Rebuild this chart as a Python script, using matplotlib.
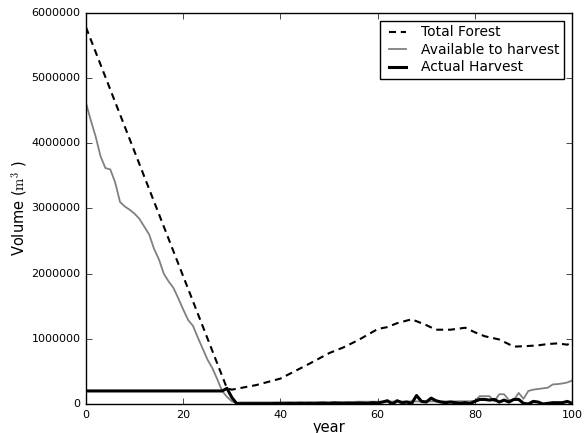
import matplotlib
matplotlib.use('Agg')
import matplotlib.pyplot as plt

plt.style.use('classic')
plt.rcParams['mathtext.fontset'] = 'cm'
plt.rcParams['font.family'] = 'DejaVu Sans'

# Total forest volume (key years)
forest_years = [0, 29, 30, 35, 40, 46, 50, 53, 56, 60, 62, 64, 67, 70, 72, 75, 78, 80,
                82, 85, 88, 91, 93, 95, 97, 99, 100]
total_forest = [5780000, 240000, 220000, 290000, 390000, 620000, 780000, 870000, 980000,
                1150000, 1180000, 1240000, 1300000, 1210000, 1140000, 1140000, 1170000,
                1100000, 1040000, 990000, 880000, 890000, 900000, 920000, 930000, 910000, 950000]

years = list(range(101))

available = [4620000, 4350000, 4100000, 3800000, 3620000, 3600000, 3400000, 3100000,
             3030000, 2980000, 2920000, 2840000, 2720000, 2600000, 2380000, 2220000,
             2000000, 1880000, 1780000, 1620000, 1450000, 1290000, 1200000, 1020000,
             850000, 680000, 550000, 380000, 200000, 110000, 40000, 20000,
             25000, 25000, 25000, 25000, 25000, 25000, 25000, 25000, 28000, 28000,
             28000, 28000, 28000, 30000, 30000, 30000, 30000, 30000, 30000, 32000,
             32000, 32000, 32000, 32000, 35000, 35000, 35000, 35000, 35000, 35000,
             38000, 38000, 38000, 38000, 38000, 40000, 40000, 40000, 40000, 40000,
             40000, 40000, 40000, 40000, 40000, 42000, 42000, 42000, 50000, 120000,
             120000, 120000, 40000, 150000, 150000, 60000, 60000, 170000, 80000,
             200000, 220000, 230000, 240000, 250000, 300000, 305000, 315000, 330000, 360000]

harvest = [200000] * 29 + [240000, 100000, 5000] + \
          [5000, 5000, 5000, 5000, 5000, 5000, 5000, 8000, 5000, 5000, 8000, 5000,
           10000, 5000, 8000, 5000, 10000, 12000, 5000, 15000, 10000, 8000, 12000, 10000,
           15000, 12000, 10000, 20000, 15000, 30000, 50000, 0, 50000, 20000, 30000,
           10000, 130000, 40000, 30000, 90000, 50000, 30000, 20000, 30000, 20000, 10000,
           20000, 5000, 40000, 70000, 70000, 60000, 70000, 30000, 60000, 30000, 70000,
           70000, 10000, 0, 40000, 30000, 0, 10000, 20000, 20000, 20000, 40000, 10000]

fig = plt.figure(figsize=(5.85, 4.33), dpi=100, facecolor='white')
ax = fig.add_axes([0.147, 0.067, 0.831, 0.903])
ax.set_facecolor('white')

ax.plot(forest_years, total_forest, color='black', linestyle='--', dashes=(5, 3.5),
        lw=1.5, label='Total Forest')
ax.plot(years[:len(available)], available, color='grey', lw=1.3, label='Available to harvest')
ax.plot(years[:len(harvest)], harvest, color='black', lw=2.2, label='Actual Harvest')

ax.set_xlim(0, 100)
ax.set_ylim(0, 6000000)
ax.set_xticks([0, 20, 40, 60, 80, 100])
ax.set_yticks([0, 1000000, 2000000, 3000000, 4000000, 5000000, 6000000])
ax.ticklabel_format(style='plain', useOffset=False)
ax.tick_params(labelsize=8)

ax.set_xlabel('year', fontsize=10.5, labelpad=0.5)
ax.set_ylabel(r'Volume ($\mathrm{m}^3$ )', fontsize=10.5)
ax.yaxis.set_label_coords(-0.118, 0.5)

leg = ax.legend(loc='upper right', fontsize=10, frameon=True, fancybox=False,
                handlelength=1.8, borderaxespad=0.55, labelspacing=0.25,
                borderpad=0.35, handletextpad=0.8)
leg.get_frame().set_edgecolor('black')

fig.savefig('out.png', dpi=100, facecolor='white')
